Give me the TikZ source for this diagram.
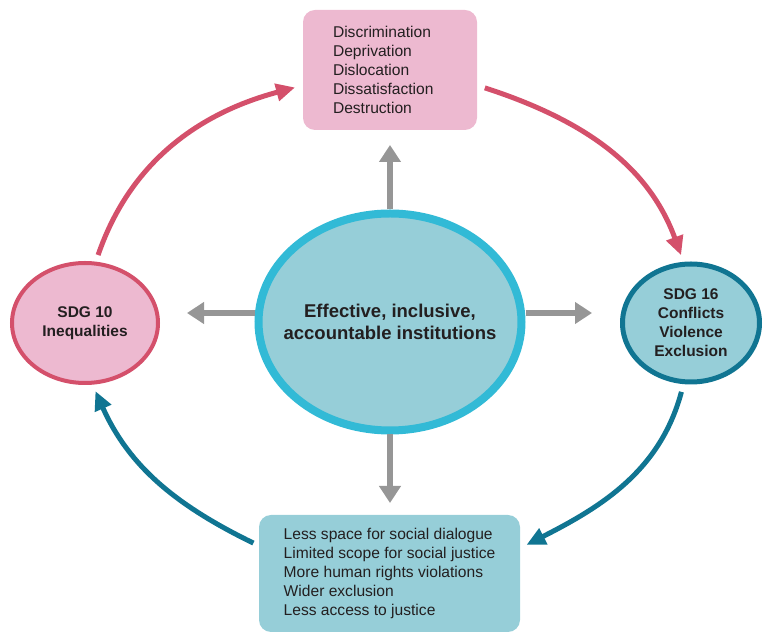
\documentclass[tikz,border=0pt]{standalone}
\usepackage{fontspec}
\setmainfont{Liberation Sans}
\usetikzlibrary{arrows.meta, shapes.geometric}
\definecolor{pinkfill}{RGB}{237,185,208}
\definecolor{pinkline}{RGB}{212,80,107}
\definecolor{tealfill}{RGB}{150,206,216}
\definecolor{cyanline}{RGB}{50,186,214}
\definecolor{darkteal}{RGB}{16,117,146}
\definecolor{arrowgray}{RGB}{150,150,150}
\definecolor{textblack}{RGB}{35,31,32}

\begin{document}
\begin{tikzpicture}[
  x=1pt, y=1pt,
  listbox/.style = {
    rectangle, rounded corners=12pt, draw=none, inner sep=0pt,
    align=left, text=textblack, font=\fontsize{15.6}{19}\selectfont
  },
  sdg/.style = {
    ellipse, inner sep=0pt, align=center, text=textblack,
    font=\bfseries\fontsize{15.5}{19}\selectfont
  },
  grayarr/.style = {-{Triangle[length=17pt,width=21pt]}, line width=6pt, draw=arrowgray},
  cyclearr/.style = {-{Triangle[length=19pt,width=17pt]}, line width=5pt}
]
\useasboundingbox (0,0) rectangle (764,632);

% boxes
\node[listbox, fill=pinkfill, minimum width=174pt, minimum height=120pt, text width=114pt]
  (harm) at (390,562) {Discrimination\\Deprivation\\Dislocation\\Dissatisfaction\\Destruction};
\node[listbox, fill=tealfill, minimum width=261pt, minimum height=117pt]
  (outcome) at (389.5,58.5) {Less space for social dialogue\\Limited scope for social justice\\More human rights violations\\Wider exclusion\\Less access to justice};

% ellipses
\node[sdg, fill=tealfill, draw=cyanline, line width=8pt, minimum width=263pt, minimum height=217pt,
  inner xsep=-20pt, font=\bfseries\fontsize{18.5}{21.7}\selectfont]
  (inst) at (390,310) {Effective, inclusive,\\accountable institutions};
\node[sdg, fill=pinkfill, draw=pinkline, line width=4pt, minimum width=146pt, minimum height=120pt]
  (sdgten) at (85,309) {SDG 10\\Inequalities};
\node[sdg, fill=tealfill, draw=darkteal, line width=5pt, minimum width=137pt, minimum height=118pt]
  (sdgsixteen) at (691,309) {SDG 16\\Conflicts\\Violence\\Exclusion};

% gray arrows out of the centre
\coordinate (uptip)    at (390,487);
\coordinate (downtip)  at (390,129);
\coordinate (lefttip)  at (187,319);
\coordinate (righttip) at (592,319);
\draw[grayarr] (inst.north) -- (uptip);
\draw[grayarr] (inst.south) -- (downtip);
\draw[grayarr] (inst.west |- lefttip) -- (lefttip);
\draw[grayarr] (inst.east |- righttip) -- (righttip);

% cycle
\draw[cyclearr, pinkline, shorten <=7pt, shorten >=8pt]
  (sdgten.80) to[out=71, in=195] (harm.190);
\draw[cyclearr, pinkline, shorten <=8pt, shorten >=7pt]
  (harm.350) to[out=-18, in=110] (sdgsixteen.97);
\draw[cyclearr, darkteal, shorten <=8pt, shorten >=7pt]
  (sdgsixteen.263) to[out=255, in=27] (outcome.11.5);
\draw[cyclearr, darkteal, shorten <=6pt, shorten >=7pt]
  (outcome.168.5) to[out=154, in=294] (sdgten.277);
\end{tikzpicture}
\end{document}
